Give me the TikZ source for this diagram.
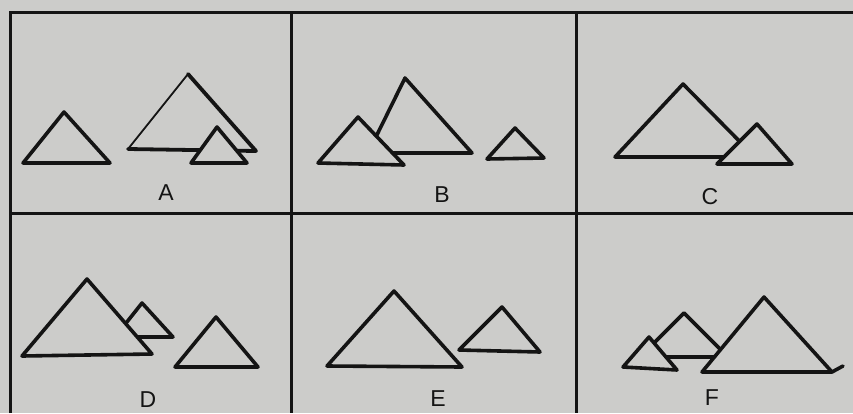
\documentclass[tikz,border=0pt]{standalone}
\usepackage{fontspec}
\setmainfont{Liberation Sans}
\definecolor{bg}{RGB}{204,204,202}
\definecolor{ink}{RGB}{20,20,20}
\begin{document}
\begin{tikzpicture}[x=1pt,y=-1pt,
  frame/.style={draw=ink,line width=3pt},
  pyr/.style={draw=ink,fill=bg,line width=3.6pt,line join=round,line cap=round},
  lbl/.style={font=\fontsize{23}{23}\selectfont,text=ink,inner sep=0pt}]
\fill[bg] (0,0) rectangle (853,413);
\useasboundingbox (0,0) rectangle (853,413);
% grid
\draw[frame] (10,413) -- (10,12) -- (853,12);
\draw[frame] (10,213) -- (853,213);
\draw[frame] (291,12) -- (291,413);
\draw[frame] (576,12) -- (576,413);
% Panel A
\draw[pyr] (23,163) -- (64,112) -- (110,163) -- cycle;
\fill[bg] (128,149) -- (188,74) -- (256,151) -- cycle;
\draw[ink,line width=1.8pt,line cap=round] (128,149) -- (188,74);
\draw[ink,line width=3.8pt,line cap=round,line join=round] (188,74) -- (256,151) -- (128,149);
\draw[pyr] (191,163) -- (217,127) -- (247,163) -- cycle;
\node[lbl] (la) at (166,193) {A};
% Panel B
\draw[pyr] (368,153) -- (405,78) -- (472,153) -- cycle;
\draw[pyr] (318,163) -- (358,117) -- (404,165) -- cycle;
\draw[pyr] (487,159) -- (515,128) -- (544,158) -- cycle;
\node[lbl] (lb) at (442,195) {B};
% Panel C
\draw[pyr] (615,157) -- (683,84) -- (755,157) -- cycle;
\draw[pyr] (717,164) -- (757,124) -- (792,164) -- cycle;
\node[lbl] (lc) at (710,197) {C};
% Panel D
\draw[pyr] (115,337) -- (142,303) -- (173,337) -- cycle;
\draw[pyr] (22,356) -- (87,279) -- (152,354) -- cycle;
\draw[pyr] (175,367) -- (216,317) -- (258,367) -- cycle;
\node[lbl] (ld) at (148,400) {D};
% Panel E
\draw[pyr] (327,366) -- (394,291) -- (462,367) -- cycle;
\draw[pyr] (459,350) -- (502,307) -- (540,352) -- cycle;
\node[lbl] (le) at (438,399) {E};
% Panel F
\draw[pyr] (640,357) -- (684,313) -- (728,357) -- cycle;
\draw[pyr] (702,372) -- (764,297) -- (832,372) -- cycle;
\draw[ink,line width=3.6pt,line cap=round] (832,372) -- (843,366);
\draw[pyr] (623,367) -- (649,337) -- (677,370) -- cycle;
\node[lbl] (lf) at (712,398) {F};
\end{tikzpicture}
\end{document}
